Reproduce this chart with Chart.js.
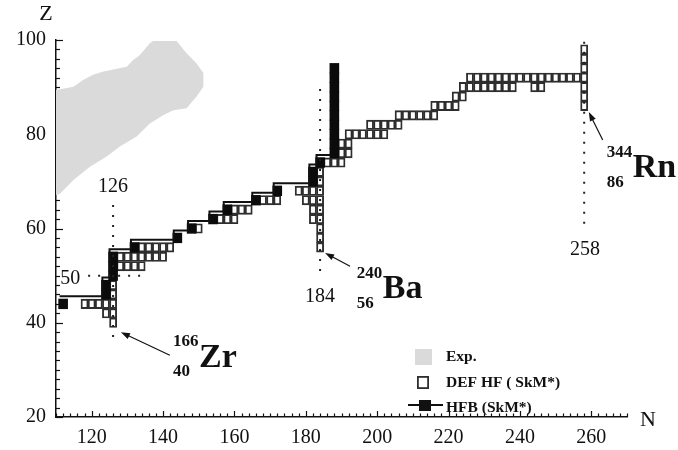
<!DOCTYPE html>
<html>
<head>
<meta charset="utf-8">
<script src="https://cdn.jsdelivr.net/npm/chart.js@4.4.0/dist/chart.umd.min.js"></script>
<style>
  html, body { margin: 0; padding: 0; background: #fff; }
  #wrap { width: 678px; height: 450px; }
</style>
</head>
<body>
<div id="wrap"><canvas id="chart" width="678" height="450"></canvas></div>
<script>
// axes
const nRange = [110, 270];
const zRange = [20, 100];
const nLabels = [120, 140, 160, 180, 200, 220, 240, 260];
const zLabels = [20, 40, 60, 80, 100];

// known (experimental) nuclei region, outline as [N, Z]
const expOutline = [
  [110, 89.4], [114.9, 90.1], [117.6, 91.5], [120.4, 92.6], [123.3, 93.3], [129.8, 94.3],
  [131.7, 95.8], [133.5, 96.8], [136.3, 99.3], [137.2, 99.8], [143.8, 99.8], [146.6, 97.2],
  [149.4, 95.0], [151.3, 93.0], [151.3, 90.1], [149.4, 88.0], [146.6, 85.5], [142.9, 85.1],
  [140.1, 84.1], [136.3, 82.3], [132.6, 79.5], [127.9, 77.4], [124.2, 75.3], [119.5, 73.1],
  [114.9, 70.3], [111.1, 67.4], [110, 67.1]
];

// DEF HF (SkM*) drip-line nuclei, one row per Z: [Z, [N, ...]]
const defHfRows = [
  [40, [126]],
  [42, [124, 126]],
  [44, [118, 120, 122, 124, 126]],
  [46, [124, 126]],
  [48, [124, 126]],
  [52, [128, 130, 132, 134]],
  [54, [128, 130, 132, 134, 136, 138, 140]],
  [56, [134, 136, 138, 140, 142, 184]],
  [58, [184]],
  [60, [150, 184]],
  [62, [156, 158, 160, 182, 184]],
  [64, [160, 162, 164, 182, 184]],
  [66, [168, 170, 172, 180, 182, 184]],
  [68, [178, 180, 182, 184]],
  [70, [184]],
  [72, [184]],
  [74, [184, 186, 188, 190]],
  [76, [190, 192]],
  [78, [190, 192]],
  [80, [192, 194, 196, 198, 200, 202]],
  [82, [198, 200, 202, 204, 206]],
  [84, [206, 208, 210, 212, 214, 216]],
  [86, [216, 218, 220, 222, 258]],
  [88, [222, 224, 258]],
  [90, [224, 226, 228, 230, 232, 234, 236, 238, 244, 246, 258]],
  [92, [226, 228, 230, 232, 234, 236, 238, 240, 242, 244, 246, 248, 250, 252, 254, 256, 258]],
  [94, [258]],
  [96, [258]],
  [98, [258]]
];

// HFB (SkM*) drip-line nuclei [N, Z]
const hfbSquares = [
  [112, 44], [124, 46], [124, 48], [126, 50], [126, 52], [126, 54], [132, 56], [144, 58],
  [148, 60], [154, 62], [158, 64], [166, 66], [172, 68], [182, 70], [182, 72], [184, 74],
  [188, 76], [188, 78], [188, 80], [188, 82], [188, 84], [188, 86], [188, 88], [188, 90],
  [188, 92], [188, 94]
];

// HFB drip line (step line) [N, Z]
const hfbLine = [
  [111, 45.6], [123, 49.6], [125, 55.6], [131, 57.6], [143, 59.6], [147, 61.6], [153, 63.6],
  [157, 65.6], [165, 67.6], [171, 69.6], [181, 73.6], [183, 75.6], [187, 75.6]
];

// magic number guide lines
const magicLines = [
  [[126, 37], [126, 66]],
  [[119, 50], [134, 50]],
  [[184, 51], [184, 91]],
  [[258, 61], [258, 100]]
];
const magicLabels = [
  ['126', 126, 68.8], ['50', 114, 49.4], ['184', 184, 45.6], ['258', 258.2, 55.4]
];

// nuclide annotations: [mass, charge, symbol, N, Z of text, arrow from, arrow to]
const nuclides = [
  ['166', '40', 'Zr', 142.8, 35.9, [141.9, 33.1], [128.2, 38.0]],
  ['240', '56', 'Ba', 194.3, 50.5, [192.4, 52.0], [185.4, 54.8]],
  ['344', '86', 'Rn', 264.3, 76.2, [263.2, 78.8], [259.3, 84.7]]
];

const expGrey = '#dadada';
const edge = '#2e2e2e';
const ink = '#111';
const serif = '"Liberation Serif", "Times New Roman", serif';

const defHfPoints = defHfRows.flatMap(([z, ns]) => ns.map(n => ({ x: n, y: [z - 1, z + 1] })));
const hfbPoints = hfbSquares.map(([n, z]) => ({ x: n, y: [z - 1.1, z + 1.1] }));
const xy = arr => arr.map(([x, y]) => ({ x, y }));

function drawArrow(ctx, x1, y1, x2, y2) {
    const ang = Math.atan2(y2 - y1, x2 - x1);
    ctx.beginPath();
    ctx.moveTo(x1, y1);
    ctx.lineTo(x2 - 6 * Math.cos(ang), y2 - 6 * Math.sin(ang));
    ctx.stroke();
    ctx.beginPath();
    ctx.moveTo(x2, y2);
    ctx.lineTo(x2 - 9 * Math.cos(ang) + 3.2 * Math.sin(ang), y2 - 9 * Math.sin(ang) - 3.2 * Math.cos(ang));
    ctx.lineTo(x2 - 9 * Math.cos(ang) - 3.2 * Math.sin(ang), y2 - 9 * Math.sin(ang) + 3.2 * Math.cos(ang));
    ctx.closePath();
    ctx.fill();
}

// inward tick marks, drawn under the data
const innerTicks = {
    id: 'innerTicks',
    beforeDatasetsDraw(chart) {
        const { ctx, chartArea: a, scales: { x, y } } = chart;
        ctx.save();
        ctx.strokeStyle = ink;
        ctx.lineWidth = 1.2;
        x.ticks.forEach(t => {
            const p = Math.round(x.getPixelForValue(t.value)) + 0.5;
            const len = t.value % 20 === 0 ? 6 : 3.5;
            ctx.beginPath();
            ctx.moveTo(p, a.bottom);
            ctx.lineTo(p, a.bottom - len);
            ctx.stroke();
        });
        y.ticks.forEach(t => {
            const p = Math.round(y.getPixelForValue(t.value)) + 0.5;
            const len = t.value % 20 === 0 ? 7 : 4;
            ctx.beginPath();
            ctx.moveTo(a.left, p);
            ctx.lineTo(a.left + len, p);
            ctx.stroke();
        });
        ctx.restore();
    }
};

// labels, arrows and legend
const overlay = {
    id: 'overlay',
    afterDraw(chart) {
        const { ctx, chartArea: a, scales: { x, y } } = chart;
        ctx.save();
        ctx.fillStyle = ink;
        ctx.strokeStyle = ink;

        // axis titles
        ctx.font = '22px ' + serif;
        ctx.textAlign = 'center';
        ctx.textBaseline = 'middle';
        ctx.fillText('Z', a.left - 10, a.top - 26);
        ctx.fillText('N', a.right + 21, a.bottom + 3);

        // magic numbers
        ctx.font = '20px ' + serif;
        magicLabels.forEach(([t, n, z]) => ctx.fillText(t, x.getPixelForValue(n), y.getPixelForValue(z)));

        // nuclides
        ctx.lineWidth = 1.2;
        nuclides.forEach(([mass, charge, sym, n, z, from, to]) => {
            const tx = x.getPixelForValue(n);
            const ty = y.getPixelForValue(z);
            ctx.textAlign = 'left';
            ctx.textBaseline = 'middle';
            ctx.font = 'bold 17px ' + serif;
            ctx.fillText(mass, tx, ty);
            ctx.fillText(charge, tx, ty + 30);
            ctx.font = 'bold 34px ' + serif;
            ctx.textBaseline = 'alphabetic';
            ctx.fillText(sym, tx + 26, ty + 25);
            drawArrow(ctx, x.getPixelForValue(from[0]), y.getPixelForValue(from[1]),
                x.getPixelForValue(to[0]), y.getPixelForValue(to[1]));
        });

        // legend
        ctx.font = 'bold 15.5px ' + serif;
        ctx.textAlign = 'left';
        ctx.textBaseline = 'middle';
        ctx.fillStyle = expGrey;
        ctx.fillRect(415, 349, 17, 16);
        ctx.fillStyle = '#fff';
        ctx.fillRect(417, 376, 12, 13);
        ctx.strokeStyle = edge;
        ctx.lineWidth = 1.8;
        ctx.strokeRect(417.9, 376.9, 10.2, 11.2);
        ctx.strokeStyle = ink;
        ctx.lineWidth = 2;
        ctx.beginPath();
        ctx.moveTo(408, 405);
        ctx.lineTo(443, 405);
        ctx.stroke();
        ctx.fillStyle = ink;
        ctx.fillRect(419, 400, 12, 11);
        ctx.fillText('Exp.', 446, 357);
        ctx.fillText('DEF HF ( SkM*)', 446, 383);
        ctx.fillText('HFB (SkM*)', 446, 408);
        ctx.restore();
    }
};

const barCommon = { type: 'bar', grouped: false, barPercentage: 1, categoryPercentage: 1, borderSkipped: false };

new Chart(document.getElementById('chart'), {
    type: 'bar',
    data: {
        datasets: [
            {
                type: 'line', label: 'Exp.', data: xy(expOutline), fill: 'shape',
                backgroundColor: expGrey, borderColor: expGrey, borderWidth: 0, pointRadius: 0, order: 10
            },
            Object.assign({}, barCommon, {
                label: 'DEF HF ( SkM*)', data: defHfPoints,
                backgroundColor: '#fff', borderColor: edge, borderWidth: 1.9, order: 6
            }),
            Object.assign({}, barCommon, {
                label: 'HFB (SkM*)', data: hfbPoints, barPercentage: 1.35,
                backgroundColor: '#0b0b0b', borderColor: '#0b0b0b', borderWidth: 0, order: 5
            }),
            {
                type: 'line', label: 'HFB line', data: xy(hfbLine), stepped: true, fill: false,
                borderColor: ink, borderWidth: 2, pointRadius: 0, order: 4
            },
            ...magicLines.map(seg => ({
                type: 'line', data: xy(seg), fill: false, borderColor: '#222', borderWidth: 2,
                borderDash: [2, 8], pointRadius: 0, order: 1
            }))
        ]
    },
    options: {
        responsive: false,
        animation: false,
        events: [],
        layout: { padding: { top: 40, right: 51, left: 0, bottom: 0 } },
        plugins: { legend: { display: false }, tooltip: { enabled: false } },
        scales: {
            x: {
                type: 'linear', min: nRange[0], max: nRange[1], offset: false,
                grid: { display: true, drawOnChartArea: false, drawTicks: false, offset: false },
                border: { display: true, color: ink, width: 1.5 },
                ticks: {
                    stepSize: 2, autoSkip: false, maxRotation: 0, maxTicksLimit: 200, padding: 9,
                    color: ink, font: { family: serif, size: 20 },
                    callback: v => nLabels.includes(v) ? String(v) : ''
                },
                afterFit: s => { s.height = 33; }
            },
            y: {
                type: 'linear', min: zRange[0], max: zRange[1],
                grid: { display: true, drawOnChartArea: false, drawTicks: false },
                border: { display: true, color: ink, width: 1.5 },
                ticks: {
                    stepSize: 2, autoSkip: false, maxTicksLimit: 200, padding: 10,
                    color: ink, font: { family: serif, size: 20 },
                    callback: v => zLabels.includes(v) ? String(v) : ''
                },
                afterFit: s => { s.width = 56; }
            }
        }
    },
    plugins: [innerTicks, overlay]
});
</script>
</body>
</html>
